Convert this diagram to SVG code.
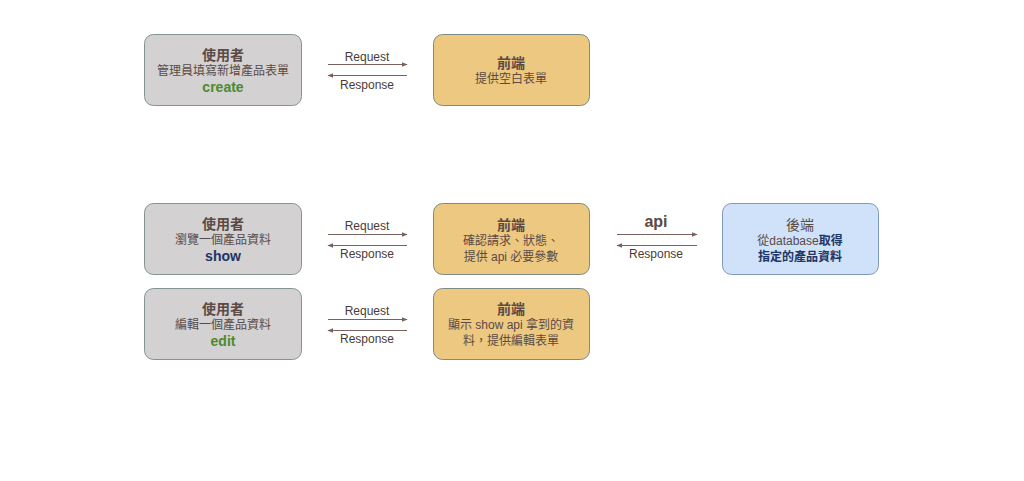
<svg xmlns="http://www.w3.org/2000/svg" width="1024" height="481" viewBox="0 0 1024 481">
<defs>
<style>
text{font-family:"Liberation Sans","Noto Sans CJK TC",sans-serif;text-anchor:middle;fill:#5b4a45}
.t{font-size:14px;font-weight:bold}
.b{font-size:12px}
.l{font-size:12px;fill:#4a3b38}
.gray{fill:#d3d1d1;stroke:#849494;stroke-width:1}
.gold{fill:#ecc881;stroke:#7e8a86;stroke-width:1}
.blue{fill:#cfe2f9;stroke:#7d9ab8;stroke-width:1}
.ln{stroke:#7a625c;stroke-width:1;fill:none}
.g{fill:#4b8a2e;font-weight:bold;font-size:14px}
.db{fill:#1e3566;font-weight:bold}
</style>
<marker id="ah" viewBox="0 0 10 10" refX="9" refY="5" markerWidth="6" markerHeight="6" orient="auto-start-reverse" markerUnits="userSpaceOnUse">
<path d="M0,1 L10,5 L0,9 z" fill="#7a625c"/>
</marker>
</defs>
<rect width="1024" height="481" fill="#ffffff"/>

<g id="user-create">
<rect class="gray" x="144.5" y="34.5" width="157" height="71" rx="9"/>
<text class="t" x="223" y="60">使用者</text>
<text class="b" x="223" y="75">管理員填寫新增產品表單</text>
<text class="g" x="223" y="92">create</text>
</g>
<g id="front-create">
<rect class="gold" x="433.5" y="34.5" width="156" height="71" rx="9"/>
<text class="t" x="511" y="68">前端</text>
<text class="b" x="511" y="83">提供空白表單</text>
</g>

<g id="user-show">
<rect class="gray" x="144.5" y="203.5" width="157" height="71" rx="9"/>
<text class="t" x="223" y="229">使用者</text>
<text class="b" x="223" y="244">瀏覽一個產品資料</text>
<text class="g" x="223" y="261" style="fill:#1e3566">show</text>
</g>
<g id="front-show">
<rect class="gold" x="433.5" y="203.5" width="156" height="71" rx="9"/>
<text class="t" x="511" y="230">前端</text>
<text class="b" x="511" y="245">確認請求、狀態、</text>
<text class="b" x="511" y="261">提供 api 必要參數</text>
</g>
<g id="backend">
<rect class="blue" x="722.5" y="203.5" width="156" height="71" rx="9"/>
<text class="t" x="800" y="230" style="font-weight:normal;font-size:14px">後端</text>
<text class="b" x="800" y="245">從database<tspan class="db">取得</tspan></text>
<text class="b db" x="800" y="261">指定的產品資料</text>
</g>

<g id="user-edit">
<rect class="gray" x="144.5" y="288.5" width="157" height="71" rx="9"/>
<text class="t" x="223" y="314">使用者</text>
<text class="b" x="223" y="329">編輯一個產品資料</text>
<text class="g" x="223" y="346">edit</text>
</g>
<g id="front-edit">
<rect class="gold" x="433.5" y="288.5" width="156" height="71" rx="9"/>
<text class="t" x="511" y="314">前端</text>
<text class="b" x="511" y="329">顯示 show api 拿到的資</text>
<text class="b" x="511" y="345">料，提供編輯表單</text>
</g>

<g id="connectors">
<line class="ln" x1="328" y1="64.5" x2="407" y2="64.5" marker-end="url(#ah)"/>
<line class="ln" x1="407" y1="75.5" x2="328" y2="75.5" marker-end="url(#ah)"/>
<text class="l" x="367" y="61">Request</text>
<text class="l" x="367" y="89">Response</text>

<line class="ln" x1="328" y1="234.5" x2="407" y2="234.5" marker-end="url(#ah)"/>
<line class="ln" x1="407" y1="245.5" x2="328" y2="245.5" marker-end="url(#ah)"/>
<text class="l" x="367" y="230">Request</text>
<text class="l" x="367" y="258">Response</text>

<line class="ln" x1="617" y1="234.5" x2="697" y2="234.5" marker-end="url(#ah)"/>
<line class="ln" x1="697" y1="245.5" x2="617" y2="245.5" marker-end="url(#ah)"/>
<text x="656" y="227" style="font-size:16px;font-weight:bold;fill:#5b4a45">api</text>
<text class="l" x="656" y="258">Response</text>

<line class="ln" x1="328" y1="319.5" x2="407" y2="319.5" marker-end="url(#ah)"/>
<line class="ln" x1="407" y1="330.5" x2="328" y2="330.5" marker-end="url(#ah)"/>
<text class="l" x="367" y="315">Request</text>
<text class="l" x="367" y="343">Response</text>
</g>
</svg>
